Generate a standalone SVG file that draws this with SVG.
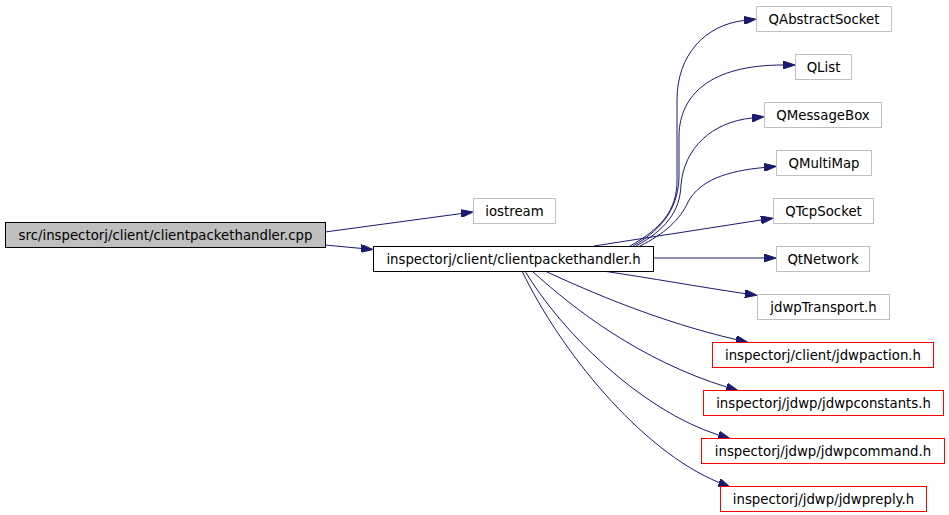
<svg xmlns="http://www.w3.org/2000/svg" width="949" height="515" viewBox="0 0 949 515">
<style>
text{font-family:"DejaVu Sans","Liberation Sans",sans-serif;font-size:13.3px;fill:#000;text-anchor:middle}
.n rect{fill:#fff;stroke:#bfbfbf;stroke-width:1}
.n.red rect{stroke:#ff0000}
.n.blk rect{stroke:#000}
.n.root rect{fill:#bfbfbf;stroke:#000}
.e path{fill:none;stroke:#191970;stroke-width:1;marker-end:url(#arr)}
</style>
<defs>
<marker id="arr" viewBox="0 0 12 8" refX="0" refY="4" markerWidth="12" markerHeight="8" orient="auto" markerUnits="userSpaceOnUse">
<path d="M0,0 L12,4 L0,8 z" fill="#191970" stroke="#191970" stroke-width="1"/>
</marker>
</defs>
<rect width="949" height="515" fill="#fff"/>
<g id="edges" class="e">
<path d="M325,232 L461,213.6"/>
<path d="M325,245 L361,248.4"/>
<path d="M630,246 C662,228 677,210 677,180 L677,100 C677,55 705,25 744,20.5"/>
<path d="M633,246 C665,228 679,205 679,175 L679,135 C680,95 710,65 783,65"/>
<path d="M636,246 C665,230 680,212 681,185 C684,148 712,122 752,118"/>
<path d="M640,246 C664,234 680,220 688,202 C700,180 727,171 764,167.5"/>
<path d="M594,246 L761,220"/>
<path d="M653,258 L764,258"/>
<path d="M603,271 C650,278 700,287 745,293.6"/>
<path d="M545,271 C590,292 660,322 736,339.5"/>
<path d="M532,271 C575,310 640,360 726.5,387"/>
<path d="M525,271 C560,330 640,410 718.5,435"/>
<path d="M522,271 C560,350 640,450 719,482.5"/>
</g>
<g id="root" class="n root"><rect x="5.5" y="222.5" width="320" height="25"/><text x="165.5" y="239.5">src/inspectorj/client/clientpackethandler.cpp</text></g>
<g id="iostream" class="n"><rect x="473.5" y="198.5" width="82" height="25"/><text x="514.5" y="215.5">iostream</text></g>
<g id="clientpackethandler_h" class="n blk"><rect x="373.5" y="246.5" width="280" height="25"/><text x="513.5" y="263.5">inspectorj/client/clientpackethandler.h</text></g>
<g id="QAbstractSocket" class="n"><rect x="756.5" y="6.5" width="135" height="25"/><text x="824" y="23.5">QAbstractSocket</text></g>
<g id="QList" class="n"><rect x="795.5" y="54.5" width="56" height="25"/><text x="823.5" y="71.5">QList</text></g>
<g id="QMessageBox" class="n"><rect x="764.5" y="102.5" width="117" height="25"/><text x="823" y="119.5">QMessageBox</text></g>
<g id="QMultiMap" class="n"><rect x="776.5" y="150.5" width="95" height="25"/><text x="824" y="167.5">QMultiMap</text></g>
<g id="QTcpSocket" class="n"><rect x="773.5" y="198.5" width="100" height="25"/><text x="823.5" y="215.5">QTcpSocket</text></g>
<g id="QtNetwork" class="n"><rect x="776.5" y="246.5" width="93" height="25"/><text x="823" y="263.5">QtNetwork</text></g>
<g id="jdwpTransport_h" class="n"><rect x="757.5" y="294.5" width="132" height="25"/><text x="823.5" y="311.5">jdwpTransport.h</text></g>
<g id="jdwpaction_h" class="n red"><rect x="712.5" y="342.5" width="221" height="25"/><text x="823" y="359.5">inspectorj/client/jdwpaction.h</text></g>
<g id="jdwpconstants_h" class="n red"><rect x="703.5" y="390.5" width="240" height="25"/><text x="823.5" y="407.5">inspectorj/jdwp/jdwpconstants.h</text></g>
<g id="jdwpcommand_h" class="n red"><rect x="701.5" y="438.5" width="243" height="25"/><text x="823" y="455.5">inspectorj/jdwp/jdwpcommand.h</text></g>
<g id="jdwpreply_h" class="n red"><rect x="720.5" y="486.5" width="206" height="25"/><text x="823.5" y="503.5">inspectorj/jdwp/jdwpreply.h</text></g>
</svg>
